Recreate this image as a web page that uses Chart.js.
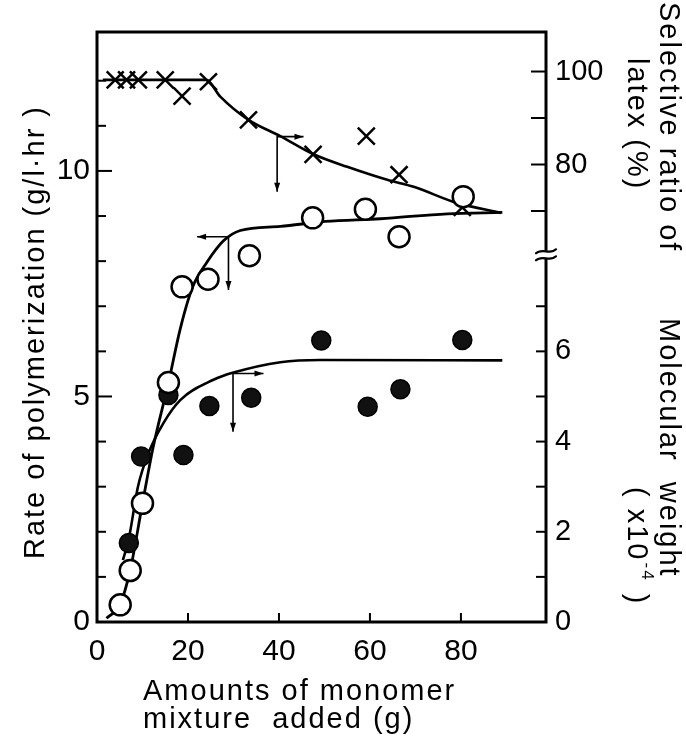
<!DOCTYPE html>
<html>
<head>
<meta charset="utf-8">
<script src="https://cdn.jsdelivr.net/npm/chart.js@4.4.1/dist/chart.umd.min.js"></script>
<style>
  body { margin: 0; background: #fff; }
</style>
</head>
<body>
<canvas id="polyChart" width="686" height="742"></canvas>

<script>
// axis ranges: left = rate, right lower part = mol. weight (same units), right upper part = selective ratio
const xMax = 98.7;
const yMax = 13.08;
const ratioMin = -18.4, ratioMax = 108.5;
const breakAt = 8.14;

const xTicks = [0, 20, 40, 60, 80];
const rateTicks = [0, 1, 2, 3, 4, 5, 6, 7, 8, 9, 10, 11, 12];
const rateLabels = [0, 5, 10];
const mwTicks = [0, 1, 2, 3, 4, 5, 6, 7];
const mwLabels = [0, 2, 4, 6];
const ratioTicks = [70, 80, 90, 100];
const ratioLabels = [80, 100];

// measured points
const rateX = [5.1, 7.3, 10.0, 15.7, 18.7, 24.4, 33.5, 47.4, 59.0, 66.4, 80.5];
const rateY = [0.38, 1.14, 2.63, 5.31, 7.43, 7.60, 8.12, 8.96, 9.15, 8.54, 9.43];

const mwX = [7.0, 9.7, 15.7, 19.0, 24.7, 33.9, 49.3, 59.5, 66.7, 80.3];
const mwY = [1.75, 3.67, 5.03, 3.70, 4.79, 4.97, 6.24, 4.77, 5.16, 6.25];

const ratioX = [4.0, 6.5, 9.1, 15.0, 18.7, 24.5, 33.3, 47.5, 59.2, 66.4, 80.3];
const ratioY = [98.2, 98.2, 98.2, 98.2, 94.7, 97.8, 89.6, 82.2, 86.1, 77.8, 70.8];

// hand drawn curves
const rateFitX = [2.1, 5.1, 7.3, 10.0, 12.4, 15.7, 18.3, 21.0, 24.2, 27.8, 31.5, 40.3, 50.2, 62.3, 77.0, 89.1];
const rateFitY = [0.08, 0.40, 1.15, 2.63, 3.9, 5.3, 6.5, 7.42, 7.98, 8.45, 8.68, 8.77, 8.88, 8.94, 9.05, 9.08];

const mwFitX = [5.7, 7.0, 9.0, 11.3, 14.6, 18.3, 25.6, 30.0, 40.3, 49.1, 89.1];
const mwFitY = [1.37, 1.85, 3.0, 3.74, 4.41, 4.92, 5.37, 5.53, 5.76, 5.81, 5.80];

const ratioFitX = [1.3, 24.0, 27.1, 33.3, 40.3, 47.6, 55.0, 63.8, 69.6, 79.2, 88.8];
const ratioFitY = [98.2, 98.2, 94.6, 89.6, 86.1, 82.2, 79.5, 76.7, 75.2, 71.7, 69.6];

// arrows (left axis units): corner point, horizontal arrow end, vertical arrow end
const arrowX = [39.6, 28.9, 29.9];
const arrowY = [10.76, 8.54, 5.51];
const arrowToX = [45.4, 22.0, 36.6];
const arrowToY = [9.54, 7.36, 4.22];

const zip = (xs, ys) => xs.map((x, i) => ({ x: x, y: ys[i] }));
const ratioToLeft = r => (r - ratioMin) / (ratioMax - ratioMin) * yMax;

Chart.defaults.font.family = "'Liberation Sans', Arial, sans-serif";
Chart.defaults.color = '#000';

const FONT = "29px 'Liberation Sans', Arial, sans-serif";

function arrowHead(ctx, x, y, dx, dy) {
  const len = 9, w = 3;
  ctx.beginPath();
  ctx.moveTo(x, y);
  ctx.lineTo(x - dx * len - dy * w, y - dy * len + dx * w);
  ctx.lineTo(x - dx * len + dy * w, y - dy * len - dx * w);
  ctx.closePath();
  ctx.fill();
}

function rotText(ctx, text, x, y, angle, align) {
  ctx.save();
  ctx.translate(x, y);
  ctx.rotate(angle);
  ctx.textAlign = align;
  ctx.fillText(text, 0, 0);
  ctx.restore();
}

const decor = {
  id: 'decor',
  beforeDatasetsDraw(chart) {
    const ctx = chart.ctx, sx = chart.scales.x, sy = chart.scales.y;
    ctx.save();
    ctx.strokeStyle = '#000';
    ctx.fillStyle = '#000';
    ctx.lineWidth = 1.6;
    arrowX.forEach((ax, i) => {
      const px = sx.getPixelForValue(ax), py = sy.getPixelForValue(arrowY[i]);
      const hx = sx.getPixelForValue(arrowToX[i]), vy = sy.getPixelForValue(arrowToY[i]);
      ctx.beginPath();
      ctx.moveTo(hx, py); ctx.lineTo(px, py); ctx.lineTo(px, vy);
      ctx.stroke();
      arrowHead(ctx, hx, py, hx > px ? 1 : -1, 0);
      arrowHead(ctx, px, vy, 0, 1);
    });
    ctx.restore();
  },
  afterDraw(chart) {
    const ctx = chart.ctx, a = chart.chartArea;
    const sx = chart.scales.x, sy = chart.scales.y, sy2 = chart.scales.y2;
    ctx.save();
    ctx.strokeStyle = '#000';
    ctx.fillStyle = '#000';
    ctx.lineCap = 'square';

    // frame
    ctx.lineWidth = 3;
    ctx.strokeRect(a.left, a.top, a.right - a.left, a.bottom - a.top);

    // break on right axis
    const by = sy2.getPixelForValue(breakAt);
    ctx.fillStyle = '#fff';
    ctx.fillRect(a.right - 3, by - 4, 6, 8);
    ctx.fillStyle = '#000';
    ctx.lineWidth = 2.2;
    ctx.lineCap = 'round';
    [-3.5, 3.5].forEach(off => {
      ctx.beginPath();
      ctx.moveTo(a.right - 10, by + off + 2);
      ctx.bezierCurveTo(a.right - 4, by + off - 4, a.right + 4, by + off + 4, a.right + 10, by + off - 2);
      ctx.stroke();
    });

    // inward tick marks
    ctx.lineWidth = 2;
    ctx.lineCap = 'butt';
    sx.ticks.forEach(t => {
      const p = sx.getPixelForValue(t.value);
      ctx.beginPath(); ctx.moveTo(p, a.bottom); ctx.lineTo(p, a.bottom - 9); ctx.stroke();
    });
    sy.ticks.forEach(t => {
      const p = sy.getPixelForValue(t.value), len = t.label ? 15 : 9;
      ctx.beginPath(); ctx.moveTo(a.left, p); ctx.lineTo(a.left + len, p); ctx.stroke();
    });
    sy2.ticks.forEach(t => {
      const p = sy2.getPixelForValue(t.value), len = t.r ? 15 : 10;
      ctx.beginPath(); ctx.moveTo(a.right, p); ctx.lineTo(a.right - len, p); ctx.stroke();
    });

    // axis titles
    ctx.font = FONT;
    ctx.letterSpacing = '2px';
    ctx.textBaseline = 'middle';
    rotText(ctx, 'Rate of polymerization (g/l·hr )', 36, 332, -Math.PI / 2, 'center');
    ctx.textAlign = 'left';
    ctx.fillText('Amounts of monomer', 143, 692);
    ctx.fillText('mixture  added (g)', 143, 720);

    rotText(ctx, 'Selective ratio of', 668, 2, Math.PI / 2, 'left');
    rotText(ctx, 'latex (%)', 636, 58, Math.PI / 2, 'left');
    rotText(ctx, 'Molecular  weight', 668, 318, Math.PI / 2, 'left');

    // ( x10^-4 )
    ctx.save();
    ctx.translate(636, 487);
    ctx.rotate(Math.PI / 2);
    ctx.textAlign = 'left';
    let w = 0;
    ctx.fillText('( x10', 0, 0);
    w += ctx.measureText('( x10').width;
    ctx.font = "17px 'Liberation Sans', Arial, sans-serif";
    ctx.fillText('-4', w + 1, -11);
    w += ctx.measureText('-4').width + 3;
    ctx.font = FONT;
    ctx.fillText(' )', w, 0);
    ctx.restore();

    ctx.restore();
  }
};

new Chart('polyChart', {
  type: 'scatter',
  data: {
    datasets: [
      {
        label: 'Rate of polymerization',
        data: zip(rateX, rateY),
        yAxisID: 'y',
        pointStyle: 'circle',
        pointRadius: 10.5,
        pointBackgroundColor: '#fff',
        pointBorderColor: '#000',
        pointBorderWidth: 2.5,
        showLine: false
      },
      {
        label: 'Molecular weight',
        data: zip(mwX, mwY),
        yAxisID: 'y2',
        pointStyle: 'circle',
        pointRadius: 9.5,
        pointBackgroundColor: '#111',
        pointBorderColor: '#000',
        pointBorderWidth: 1.5,
        showLine: false
      },
      {
        label: 'Selective ratio of latex',
        data: zip(ratioX, ratioY),
        yAxisID: 'yR',
        pointStyle: 'crossRot',
        pointRadius: 12,
        pointBorderColor: '#000',
        pointBorderWidth: 2.5,
        showLine: false
      },
      {
        data: zip(rateFitX, rateFitY),
        yAxisID: 'y',
        showLine: true,
        pointRadius: 0,
        borderColor: '#000',
        borderWidth: 2.8,
        cubicInterpolationMode: 'monotone'
      },
      {
        data: zip(mwFitX, mwFitY),
        yAxisID: 'y2',
        showLine: true,
        pointRadius: 0,
        borderColor: '#000',
        borderWidth: 2.6,
        cubicInterpolationMode: 'monotone'
      },
      {
        data: zip(ratioFitX, ratioFitY),
        yAxisID: 'yR',
        showLine: true,
        pointRadius: 0,
        borderColor: '#000',
        borderWidth: 2.6,
        cubicInterpolationMode: 'monotone'
      }
    ]
  },
  options: {
    responsive: false,
    animation: false,
    layout: { padding: { top: 32, left: 0, right: 0, bottom: 0 } },
    plugins: { legend: { display: false }, tooltip: { enabled: false } },
    scales: {
      x: {
        type: 'linear',
        min: 0,
        max: xMax,
        grid: { display: false, drawTicks: false },
        border: { display: false },
        afterBuildTicks: s => { s.ticks = xTicks.map(v => ({ value: v })); },
        afterFit: s => { s.height = 120; },
        ticks: { font: { size: 30 }, padding: 12, maxRotation: 0, autoSkip: false }
      },
      y: {
        position: 'left',
        min: 0,
        max: yMax,
        grid: { display: false, drawTicks: false },
        border: { display: false },
        afterBuildTicks: s => { s.ticks = rateTicks.map(v => ({ value: v })); },
        afterFit: s => { s.width = 97; },
        ticks: {
          font: { size: 30 },
          padding: 7,
          autoSkip: false,
          callback: v => rateLabels.includes(v) ? String(v) : ''
        }
      },
      y2: {
        position: 'right',
        min: 0,
        max: yMax,
        grid: { display: false, drawTicks: false },
        border: { display: false },
        afterBuildTicks: s => {
          s.ticks = mwTicks.map(v => ({ value: v }))
            .concat(ratioTicks.map(r => ({ value: ratioToLeft(r), r: r })));
        },
        afterFit: s => { s.width = 140; },
        ticks: {
          font: { size: 29 },
          padding: 9,
          autoSkip: false,
          callback: (v, i, ticks) => {
            const r = ticks[i].r;
            if (r) return ratioLabels.includes(r) ? String(r) : '';
            return mwLabels.includes(v) ? String(v) : '';
          }
        }
      },
      yR: {
        display: false,
        min: ratioMin,
        max: ratioMax
      }
    }
  },
  plugins: [decor]
});
</script>
</body>
</html>
